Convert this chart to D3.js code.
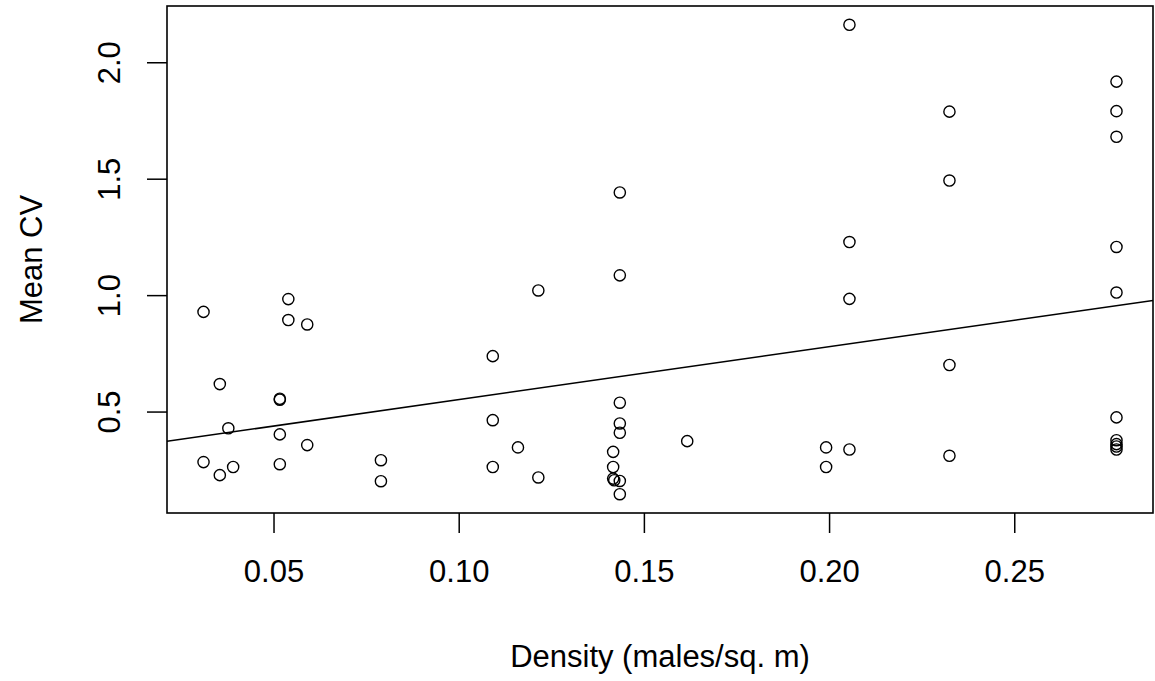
<!DOCTYPE html>
<html>
<head>
<meta charset="utf-8">
<script src="https://cdn.jsdelivr.net/npm/d3@7"></script>
<style>
    body { margin: 0; background: #fff; }
    text { font-family: "Liberation Sans", Arial, sans-serif; fill: #000; }
</style>
</head>
<body>
<div class="visual"></div>
<script>
// density (males/sq. m) for each point
const density = [
    0.0311, 0.0355, 0.0378, 0.0311, 0.0355, 0.0391,
    0.0540, 0.0540, 0.0591, 0.0517, 0.0517, 0.0517, 0.0591, 0.0517,
    0.0790, 0.0790,
    0.1092, 0.1092, 0.1160, 0.1092, 0.1215, 0.1215,
    0.1435, 0.1435, 0.1435, 0.1435, 0.1435, 0.1417, 0.1417, 0.1417, 0.1420, 0.1435, 0.1435,
    0.1617,
    0.1992, 0.1992, 0.2055, 0.2055, 0.2055, 0.2055,
    0.2325, 0.2325, 0.2325, 0.2325,
    0.2776, 0.2776, 0.2776, 0.2776, 0.2776, 0.2776, 0.2776, 0.2776, 0.2776, 0.2776
];

// mean CV for each point
const meanCV = [
    0.928, 0.618, 0.428, 0.283, 0.227, 0.262,
    0.983, 0.893, 0.874, 0.551, 0.555, 0.402, 0.356, 0.274,
    0.291, 0.201,
    0.738, 0.463, 0.346, 0.262, 1.020, 0.217,
    1.441, 1.085, 0.538, 0.449, 0.409, 0.327, 0.262, 0.212, 0.205, 0.202, 0.145,
    0.373,
    0.346, 0.262, 0.337, 0.984, 1.228, 2.161,
    1.788, 1.492, 0.700, 0.310,
    1.917, 1.790, 1.680, 1.207, 1.011, 0.475, 0.377, 0.360, 0.350, 0.337
];

const xTicks = [0.05, 0.10, 0.15, 0.20, 0.25];
const yTicks = [0.5, 1.0, 1.5, 2.0];

// fitted line
const fitIntercept = 0.324;
const fitSlope = 2.272;

const W = 1155, H = 681;
const box = { left: 167, right: 1153, top: 6, bottom: 513 };
const fontSize = 31;
const tickLen = 20;

function padded(arr) {
    const [lo, hi] = d3.extent(arr);
    const pad = (hi - lo) * 0.04;
    return [lo - pad, hi + pad];
}

function display() {
    const svg = d3.select(".visual")
        .append("svg")
        .attr("width", W)
        .attr("height", H)
        .style("display", "block");

    svg.append("rect")
        .attr("width", W)
        .attr("height", H)
        .attr("fill", "#fff");

    const x = d3.scaleLinear().domain(padded(density)).range([box.left, box.right]);
    const y = d3.scaleLinear().domain(padded(meanCV)).range([box.bottom, box.top]);

    // x axis
    const xAxis = svg.append("g")
        .attr("transform", `translate(0,${box.bottom})`)
        .call(d3.axisBottom(x).tickValues(xTicks).tickSize(tickLen).tickPadding(0).tickFormat(d3.format(".2f")));
    xAxis.select(".domain").remove();
    xAxis.selectAll("line").attr("stroke", "#000").attr("stroke-width", 1.5);
    xAxis.selectAll("text")
        .attr("y", 0)
        .attr("dy", 69)
        .style("font-size", fontSize + "px")
        .attr("font-family", null);

    // y axis
    const yAxis = svg.append("g")
        .attr("transform", `translate(${box.left},0)`)
        .call(d3.axisLeft(y).tickValues(yTicks).tickSize(tickLen).tickFormat(d3.format(".1f")));
    yAxis.select(".domain").remove();
    yAxis.selectAll("line").attr("stroke", "#000").attr("stroke-width", 1.5);
    yAxis.selectAll("text")
        .attr("x", null)
        .attr("dy", null)
        .attr("text-anchor", "middle")
        .attr("transform", d => `translate(${120 - box.left},${y(d)}) rotate(-90)`)
        .attr("y", 0)
        .style("font-size", fontSize + "px")
        .attr("font-family", null);
    // axisLeft puts the label at y(d) via the tick group, undo that offset
    yAxis.selectAll(".tick").each(function(d) {
        d3.select(this).select("text")
            .attr("transform", `translate(${120 - box.left},0) rotate(-90)`);
    });

    // plot clip
    svg.append("clipPath").attr("id", "plotclip")
        .append("rect")
        .attr("x", box.left).attr("y", box.top)
        .attr("width", box.right - box.left).attr("height", box.bottom - box.top);

    // regression line
    const [x0, x1] = x.domain();
    svg.append("line")
        .attr("clip-path", "url(#plotclip)")
        .attr("x1", x(x0)).attr("y1", y(fitIntercept + fitSlope * x0))
        .attr("x2", x(x1)).attr("y2", y(fitIntercept + fitSlope * x1))
        .attr("stroke", "#000")
        .attr("stroke-width", 1.5);

    // points
    svg.append("g").selectAll("circle")
        .data(density.map((d, i) => ({ d: d, cv: meanCV[i] })))
        .enter()
        .append("circle")
        .attr("cx", p => x(p.d))
        .attr("cy", p => y(p.cv))
        .attr("r", 5.6)
        .attr("fill", "none")
        .attr("stroke", "#000")
        .attr("stroke-width", 1.4);

    // box
    svg.append("rect")
        .attr("x", box.left).attr("y", box.top)
        .attr("width", box.right - box.left).attr("height", box.bottom - box.top)
        .attr("fill", "none")
        .attr("stroke", "#000")
        .attr("stroke-width", 1.6);

    // axis titles
    svg.append("text")
        .attr("x", (box.left + box.right) / 2)
        .attr("y", 667)
        .attr("text-anchor", "middle")
        .style("font-size", fontSize + "px")
        .text("Density (males/sq. m)");

    svg.append("text")
        .attr("transform", `translate(42,${(box.top + box.bottom) / 2}) rotate(-90)`)
        .attr("text-anchor", "middle")
        .style("font-size", fontSize + "px")
        .text("Mean CV");
}

window.onload = function() {
    display();
};
</script>
</body>
</html>
